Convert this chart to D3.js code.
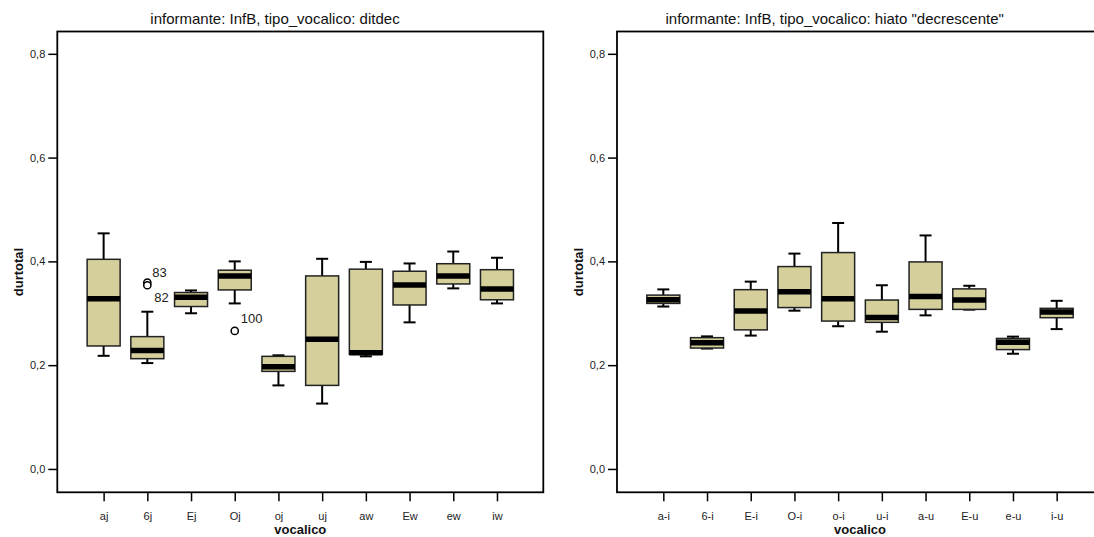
<!DOCTYPE html>
<html>
<head>
<meta charset="utf-8">
<script src="https://cdn.jsdelivr.net/npm/d3@7"></script>
<style>
  body { margin: 0; background: #fff; }
  svg { display: block; font-family: "Liberation Sans", Arial, sans-serif; }
</style>
</head>
<body>
<svg id="chart" width="1094" height="537"></svg>
<script>
// ditdec panel
const leftCats = ["aj", "6j", "Ej", "Oj", "oj", "uj", "aw", "Ew", "ew", "iw"];
const leftLow  = [0.218, 0.204, 0.300, 0.319, 0.161, 0.126, 0.217, 0.2825, 0.348, 0.319];
const leftQ1   = [0.237, 0.2125, 0.313, 0.345, 0.188, 0.161, 0.221, 0.316, 0.3565, 0.326];
const leftMed  = [0.328, 0.2285, 0.331, 0.372, 0.197, 0.2497, 0.224, 0.3545, 0.372, 0.347];
const leftQ3   = [0.404, 0.255, 0.340, 0.383, 0.217, 0.372, 0.385, 0.381, 0.3955, 0.384];
const leftHigh = [0.454, 0.303, 0.344, 0.400, 0.219, 0.405, 0.399, 0.396, 0.419, 0.407];
const leftOutCats   = ["6j", "6j", "Oj"];
const leftOutValues = [0.359, 0.354, 0.266];
const leftOutLabels = ["83", "82", "100"];

// hiato "decrescente" panel
const rightCats = ["a-i", "6-i", "E-i", "O-i", "o-i", "u-i", "a-u", "E-u", "e-u", "i-u"];
const rightLow  = [0.313, 0.232, 0.257, 0.305, 0.275, 0.2645, 0.296, 0.307, 0.222, 0.2695];
const rightQ1   = [0.319, 0.233, 0.268, 0.311, 0.285, 0.2825, 0.3075, 0.3075, 0.230, 0.2915];
const rightMed  = [0.326, 0.243, 0.3045, 0.3415, 0.328, 0.292, 0.3325, 0.3255, 0.244, 0.3025];
const rightQ3   = [0.335, 0.253, 0.3455, 0.390, 0.417, 0.3255, 0.399, 0.347, 0.2515, 0.3095];
const rightHigh = [0.346, 0.2555, 0.361, 0.415, 0.474, 0.354, 0.450, 0.353, 0.255, 0.324];

const yTicks = [0, 0.2, 0.4, 0.6, 0.8];
const yTickLabels = ["0,0", "0,2", "0,4", "0,6", "0,8"];

const svg = d3.select('#chart');
const margin = { top: 31.5, left: 57.3, plotW: 486, bottom: 492.3 };
const boxFill = '#d4cf9b';

// offsets of the outlier case labels (left of text, baseline)
const labelOffset = { "83": [5, -6], "82": [7, 17], "100": [6, -8] };

const yScale = d3.scaleLinear()
    .domain([-0.045, 0.843])
    .range([margin.bottom, margin.top]);

drawPanel(0, 'informante: InfB, tipo_vocalico: ditdec',
    leftCats, leftLow, leftQ1, leftMed, leftQ3, leftHigh,
    leftOutCats, leftOutValues, leftOutLabels);
drawPanel(559.7, 'informante: InfB, tipo_vocalico: hiato "decrescente"',
    rightCats, rightLow, rightQ1, rightMed, rightQ3, rightHigh, [], [], []);

function drawPanel(offsetX, title, cats, low, q1, med, q3, high, outCats, outValues, outLabels)
{
    const g = svg.append('g')
        .attr('transform', 'translate(' + offsetX + ',0)');

    const xScale = d3.scalePoint()
        .domain(cats)
        .range([margin.left, margin.left + margin.plotW])
        .padding(1.06);
    const boxW = 33;

    // y axis
    const yAxis = d3.axisLeft(yScale)
        .tickValues(yTicks)
        .tickFormat((d, i) => yTickLabels[i])
        .tickSize(9)
        .tickPadding(3);
    const ya = g.append('g')
        .attr('transform', 'translate(' + margin.left + ',0)')
        .call(yAxis);
    ya.select('.domain').remove();
    ya.selectAll('line').attr('stroke', '#000').attr('stroke-width', 1.5);
    ya.selectAll('text').attr('font-size', 11).attr('fill', '#222')
        .attr('font-family', '"Liberation Sans", Arial, sans-serif');

    // x axis
    const xAxis = d3.axisBottom(xScale)
        .tickSize(9)
        .tickPadding(11);
    const xa = g.append('g')
        .attr('transform', 'translate(0,' + margin.bottom + ')')
        .call(xAxis);
    xa.select('.domain').remove();
    xa.selectAll('line').attr('stroke', '#000').attr('stroke-width', 1.5);
    xa.selectAll('text').attr('font-size', 11).attr('fill', '#222')
        .attr('font-family', '"Liberation Sans", Arial, sans-serif');

    // frame
    g.append('rect')
        .attr('x', margin.left)
        .attr('y', margin.top)
        .attr('width', margin.plotW)
        .attr('height', margin.bottom - margin.top)
        .attr('fill', 'none')
        .attr('stroke', '#000')
        .attr('stroke-width', 1.8);

    const rows = cats.map((c, i) => ({ cat: c, low: low[i], q1: q1[i], med: med[i], q3: q3[i], high: high[i] }));

    const bx = g.append('g').selectAll('g')
        .data(rows)
        .enter().append('g');

    // whiskers
    bx.append('line')
        .attr('x1', d => xScale(d.cat)).attr('x2', d => xScale(d.cat))
        .attr('y1', d => yScale(d.high)).attr('y2', d => yScale(d.q3))
        .attr('stroke', '#000').attr('stroke-width', 2);
    bx.append('line')
        .attr('x1', d => xScale(d.cat)).attr('x2', d => xScale(d.cat))
        .attr('y1', d => yScale(d.q1)).attr('y2', d => yScale(d.low))
        .attr('stroke', '#000').attr('stroke-width', 2);
    bx.append('line')
        .attr('x1', d => xScale(d.cat) - 6).attr('x2', d => xScale(d.cat) + 6)
        .attr('y1', d => yScale(d.high)).attr('y2', d => yScale(d.high))
        .attr('stroke', '#000').attr('stroke-width', 2);
    bx.append('line')
        .attr('x1', d => xScale(d.cat) - 6).attr('x2', d => xScale(d.cat) + 6)
        .attr('y1', d => yScale(d.low)).attr('y2', d => yScale(d.low))
        .attr('stroke', '#000').attr('stroke-width', 2);

    // box
    bx.append('rect')
        .attr('x', d => xScale(d.cat) - boxW / 2)
        .attr('y', d => yScale(d.q3))
        .attr('width', boxW)
        .attr('height', d => yScale(d.q1) - yScale(d.q3))
        .attr('fill', boxFill)
        .attr('stroke', '#222')
        .attr('stroke-width', 1.5);

    // median
    bx.append('line')
        .attr('x1', d => xScale(d.cat) - boxW / 2).attr('x2', d => xScale(d.cat) + boxW / 2)
        .attr('y1', d => yScale(d.med)).attr('y2', d => yScale(d.med))
        .attr('stroke', '#000').attr('stroke-width', 5.5);

    // outliers
    outCats.forEach((c, i) => {
        const px = xScale(c), py = yScale(outValues[i]);
        g.append('circle')
            .attr('cx', px).attr('cy', py).attr('r', 3.6)
            .attr('fill', '#fff').attr('stroke', '#000').attr('stroke-width', 1.5);
        const off = labelOffset[outLabels[i]];
        g.append('text')
            .attr('x', px + off[0]).attr('y', py + off[1])
            .attr('font-size', 13).attr('fill', '#222')
            .text(outLabels[i]);
    });

    // titles
    g.append('text')
        .attr('x', 275).attr('y', 24)
        .attr('text-anchor', 'middle')
        .attr('font-size', 15).attr('fill', '#111')
        .text(title);
    g.append('text')
        .attr('x', margin.left + margin.plotW / 2).attr('y', 534)
        .attr('text-anchor', 'middle')
        .attr('font-size', 13).attr('font-weight', 'bold').attr('fill', '#111')
        .text('vocalico');
    g.append('text')
        .attr('transform', 'translate(23,272) rotate(-90)')
        .attr('text-anchor', 'middle')
        .attr('font-size', 13).attr('font-weight', 'bold').attr('fill', '#111')
        .text('durtotal');
}
</script>
</body>
</html>
